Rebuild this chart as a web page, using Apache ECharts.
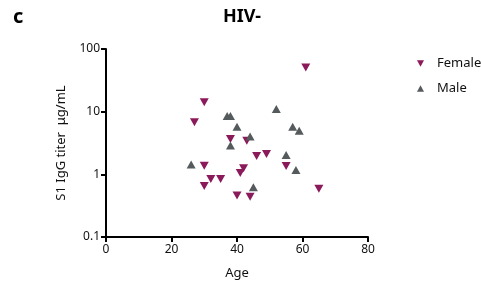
<!DOCTYPE html>
<html>
<head>
<meta charset="utf-8">
<script src="https://cdn.jsdelivr.net/npm/echarts@6/dist/echarts.min.js"></script>
<style>
    html, body { margin: 0; padding: 0; background: #fff; }
    #chart { width: 481px; height: 293px; }
</style>
</head>
<body>
<div id="chart"></div>
<script>
    // age vs titer
    const femaleAge = [30, 27, 38, 43, 46, 49, 30, 42, 41, 32, 35, 30, 40, 44, 55, 61, 65];
    const femaleTiter = [14.1, 6.8, 3.66, 3.44, 1.96, 2.11, 1.37, 1.25, 1.05, 0.84, 0.84, 0.65, 0.46, 0.44, 1.36, 50.5, 0.59];
    const maleAge = [26, 37, 38, 40, 38, 44, 52, 57, 59, 55, 58, 45];
    const maleTiter = [1.44, 8.5, 8.5, 5.76, 2.88, 4.0, 11.0, 5.76, 4.97, 2.03, 1.17, 0.62];
    const xTicks = [0, 20, 40, 60, 80];
    const yTicks = [0.1, 1, 10, 100];

    const font = 'Noto Sans';
    const downTri = 'path://M0,0 L10,0 L5,9 Z';
    const upTri = 'path://M5,0 L10,9 L0,9 Z';

    function pairs(xs, ys) {
        return xs.map((x, i) => [x, ys[i]]);
    }

    let myChart = echarts.init(document.getElementById('chart'));
    let option = {
        animation: false,
        title: [
            { text: 'c', left: 8, top: 2, textStyle: { fontFamily: font, fontSize: 20, fontWeight: 'bold', color: '#000' } },
            { text: 'HIV-', left: 237, top: 3, textAlign: 'center', textStyle: { fontFamily: font, fontSize: 18, fontWeight: 'bold', color: '#000' } }
        ],
        legend: {
            orient: 'vertical',
            left: 412,
            top: 52,
            itemWidth: 7,
            itemHeight: 7,
            itemGap: 12,
            textStyle: { fontFamily: font, fontSize: 13, color: '#111', padding: [0, 0, 0, 8] },
            data: [
                { name: 'Female', icon: downTri },
                { name: 'Male', icon: upTri }
            ]
        },
        grid: { left: 106, right: 113, top: 49, bottom: 56 },
        xAxis: {
            type: 'value',
            min: 0,
            max: 80,
            interval: 20,
            name: 'Age',
            nameLocation: 'middle',
            nameGap: 30,
            nameTextStyle: { fontFamily: font, fontSize: 13, color: '#111' },
            axisLine: { onZero: false, lineStyle: { color: '#000', width: 2 } },
            axisTick: { length: 5, lineStyle: { color: '#000', width: 2 } },
            axisLabel: { fontFamily: font, fontSize: 12, color: '#111', margin: 7,
                formatter: v => xTicks.includes(v) ? String(v) : '' },
            splitLine: { show: false }
        },
        yAxis: {
            type: 'log',
            logBase: 10,
            min: 0.1,
            max: 100,
            name: 'S1 IgG titer  μg/mL',
            nameLocation: 'middle',
            nameGap: 38,
            nameTextStyle: { fontFamily: font, fontSize: 13, color: '#111' },
            axisLine: { lineStyle: { color: '#000', width: 2 } },
            axisTick: { length: 5, lineStyle: { color: '#000', width: 2 } },
            axisLabel: { fontFamily: font, fontSize: 12, color: '#111', margin: 6,
                formatter: v => {
                    const t = yTicks.find(k => Math.abs(k - v) < k * 1e-6);
                    return t === undefined ? '' : String(t);
                } },
            splitLine: { show: false }
        },
        series: [
            {
                name: 'Female',
                type: 'scatter',
                symbol: downTri,
                symbolSize: [9, 8],
                itemStyle: { color: '#8b1a5b', opacity: 1 },
                data: pairs(femaleAge, femaleTiter)
            },
            {
                name: 'Male',
                type: 'scatter',
                symbol: upTri,
                symbolSize: [9, 8],
                itemStyle: { color: '#555a5c', opacity: 1 },
                data: pairs(maleAge, maleTiter)
            }
        ]
    };
    myChart.setOption(option);
</script>
</body>
</html>
